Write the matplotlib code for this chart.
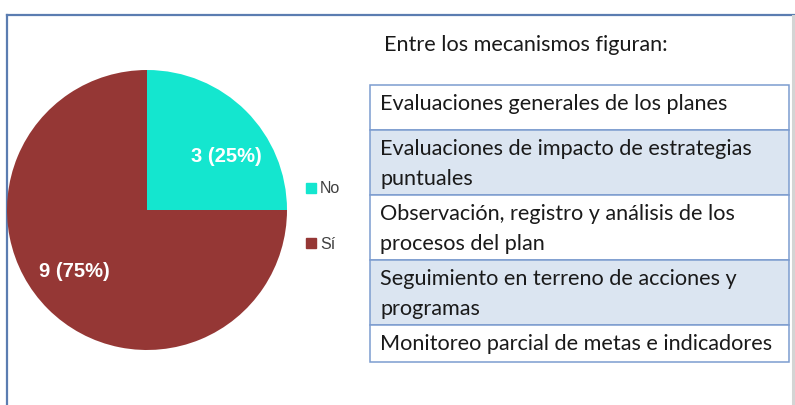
import matplotlib
matplotlib.use("Agg")
import matplotlib.pyplot as plt
from matplotlib.patches import Rectangle
from matplotlib.lines import Line2D
import numpy as np

# ---- data ----
categories = ["No", "Sí"]
values = [3, 9]
colors = ["#14E6CF", "#953735"]
title_text = "Entre los mecanismos figuran:"
mechanisms = [
    "Evaluaciones generales de los planes",
    "Evaluaciones de impacto de estrategias\npuntuales",
    "Observación, registro y análisis de los\nprocesos del plan",
    "Seguimiento en terreno de acciones y\nprogramas",
    "Monitoreo parcial de metas e indicadores",
]
row_fills = ["#FFFFFF", "#DBE5F1", "#FFFFFF", "#DBE5F1", "#FFFFFF"]

W, H = 795, 405
fig = plt.figure(figsize=(W / 100, H / 100), dpi=100)
fig.patch.set_facecolor("white")

# background axis in pixel coordinates (frame + table)
bg = fig.add_axes([0, 0, 1, 1])
bg.set_xlim(0, W)
bg.set_ylim(H, 0)
bg.axis("off")

# outer frame
bg.add_line(Line2D([6.5, W], [14.5, 14.5], color="#5B7DB1", lw=1.6))
bg.add_line(Line2D([6.5, 6.5], [14.5, H], color="#5B7DB1", lw=1.6))
bg.add_line(Line2D([792.5, 792.5], [16, H], color="#D4D4D4", lw=2.2))

# title
txt_font = "Lato"
fs = 15.6
bg.text(384, 45, title_text, fontsize=fs, family=txt_font, color="#1a1a1a",
        va="center", ha="left")

# table
row_edges = [85, 130, 195, 260, 325, 362]
tx0, tx1 = 370, 789
for i, label in enumerate(mechanisms):
    y0, y1 = row_edges[i], row_edges[i + 1]
    bg.add_patch(Rectangle((tx0, y0), tx1 - tx0, y1 - y0, facecolor=row_fills[i],
                           edgecolor="#7C9CCF", lw=1.1))
    nlines = label.count("\n") + 1
    if nlines == 1:
        yc = y0 + 19 if i == 0 else (y0 + y1) / 2 + 1
    else:
        yc = (y0 + y1) / 2 + 1.5
    bg.text(380, yc, label, fontsize=fs, family=txt_font, color="#1a1a1a",
            va="center", ha="left", linespacing=1.58)

# pie
cx, cy, r = 147, 210, 140
pax = fig.add_axes([(cx - r) / W, (H - cy - r) / H, 2 * r / W, 2 * r / H])
total = sum(values)
wedges, texts, autotexts = pax.pie(
    values, colors=colors, startangle=90, counterclock=False,
    autopct=lambda p: f"{int(round(p * total / 100))} ({p:.0f}%)",
    pctdistance=0.68, radius=1.0,
    textprops=dict(color="white", fontsize=14.5, fontweight="bold",
                   family="Liberation Sans"),
    wedgeprops=dict(linewidth=0))
# nudge labels slightly as in the reference
shifts = [-11, -5]
for w, t, s in zip(wedges, autotexts, shifts):
    ang = np.deg2rad((w.theta1 + w.theta2) / 2 + s)
    t.set_position((0.68 * np.cos(ang), 0.68 * np.sin(ang)))
pax.set_xlim(-1, 1)
pax.set_ylim(-1, 1)
pax.axis("off")

# legend
handles = [Line2D([], [], marker="s", linestyle="none", markersize=7,
                  markerfacecolor=c, markeredgecolor=c) for c in colors]
leg = fig.legend(handles, categories, loc="center left",
                 bbox_to_anchor=(307 / W, 1 - 216.5 / H), frameon=False,
                 prop=dict(family="Liberation Sans", size=11.5),
                 handlelength=0.55, handletextpad=0.25, labelspacing=2.55,
                 borderpad=0, borderaxespad=0)
for t in leg.get_texts():
    t.set_color("#404040")

fig.savefig("out.png", dpi=100)
